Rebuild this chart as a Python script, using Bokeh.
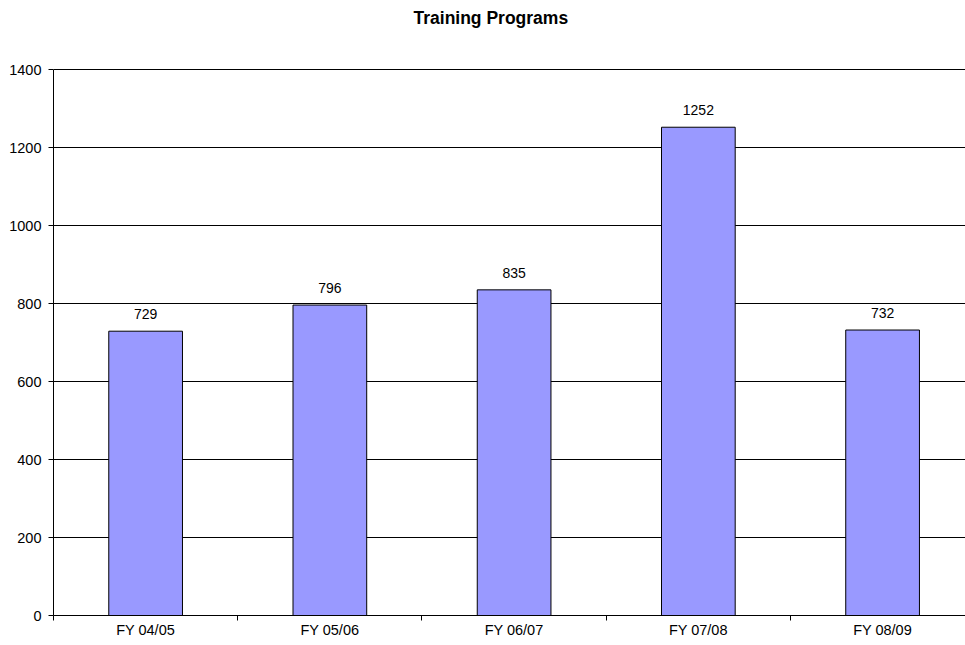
from bokeh.plotting import figure
from bokeh.models import ColumnDataSource, Range1d, FixedTicker, Label
from bokeh.core.properties import value
from bokeh.embed import file_html
from bokeh.resources import INLINE

title_text = "Training Programs"
categories = ["FY 04/05", "FY 05/06", "FY 06/07", "FY 07/08", "FY 08/09"]
counts = [729, 796, 835, 1252, 732]
y_ticks = [0, 200, 400, 600, 800, 1000, 1200, 1400]

xs = list(range(len(categories)))
src = ColumnDataSource(dict(x=xs, top=counts, label=[str(c) for c in counts]))

FONT = "Liberation Sans"

# layout: value axis spans 546 px (0..1400); frame extends 69 px above it for the title
AXIS_PX = 546
TOP_PAD = 69
y_max = y_ticks[-1]
y_end = y_max * (AXIS_PX + TOP_PAD) / AXIS_PX

p = figure(width=965, height=640, output_backend="svg", toolbar_location=None,
           x_range=Range1d(-0.5, 4.45), y_range=Range1d(0, y_end),
           min_border_left=53, min_border_right=0, min_border_top=0, min_border_bottom=22)
p.outline_line_color = None
p.background_fill_color = "white"
p.border_fill_color = "white"
p.title.visible = False

# chart title placed in screen space at the top of the frame
p.add_layout(Label(x=360, y=AXIS_PX + TOP_PAD - 17, x_units="screen", y_units="screen",
                   text=title_text, text_font=FONT, text_font_size="17.5px",
                   text_font_style="bold", text_color="black", text_align="left",
                   text_baseline="alphabetic"))

p.vbar(x="x", top="top", width=0.4, source=src, fill_color="#9999FF",
       line_color="black", line_width=1)
p.text(x="x", y="top", text="label", source=src, text_align="center",
       text_baseline="alphabetic", y_offset=-17, text_font=value(FONT),
       text_font_size="14px", text_color="black")

# x axis
p.xaxis.ticker = FixedTicker(ticks=xs, minor_ticks=[i + 0.5 for i in range(-1, len(categories))])
p.xaxis.major_label_overrides = {i: c for i, c in enumerate(categories)}
p.xaxis.major_tick_out = 0
p.xaxis.major_tick_in = 0
p.xaxis.minor_tick_out = 5
p.xaxis.minor_tick_in = 0
p.xaxis.minor_tick_line_color = "black"
p.xaxis.axis_line_color = "black"
p.xaxis.major_label_standoff = 1
p.xaxis.major_label_text_font = FONT
p.xaxis.major_label_text_font_size = "14.5px"
p.xaxis.major_label_text_color = "black"

# y axis
p.yaxis.ticker = FixedTicker(ticks=y_ticks, minor_ticks=[])
p.yaxis.bounds = (0, y_max)
p.yaxis.major_tick_out = 5
p.yaxis.major_tick_in = 0
p.yaxis.major_tick_line_color = "black"
p.yaxis.axis_line_color = "black"
p.yaxis.major_label_standoff = 7
p.yaxis.major_label_text_font = FONT
p.yaxis.major_label_text_font_size = "14.5px"
p.yaxis.major_label_text_color = "black"

p.xgrid.grid_line_color = None
p.ygrid.ticker = FixedTicker(ticks=y_ticks)
p.ygrid.grid_line_color = "black"
p.ygrid.grid_line_width = 1

open("out.html", "w").write(file_html(p, INLINE))
